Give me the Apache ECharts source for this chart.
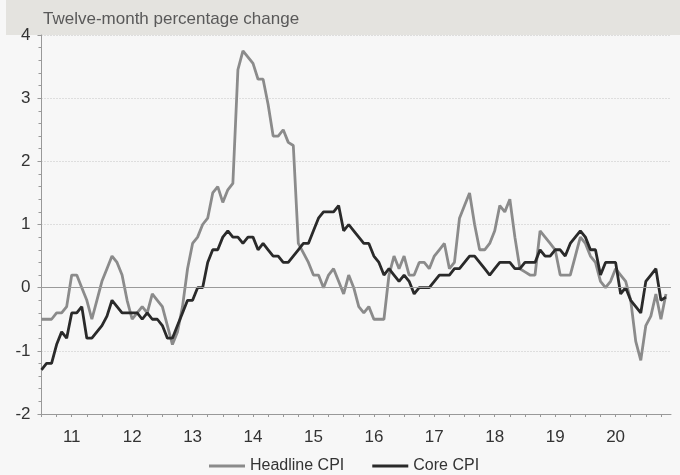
<!DOCTYPE html>
<html>
<head>
<meta charset="utf-8">
<script src="https://cdn.jsdelivr.net/npm/echarts@6/dist/echarts.min.js"></script>
<style>
  html, body { margin: 0; padding: 0; background: #f7f7f7; }
  #chart { width: 680px; height: 475px; }
</style>
</head>
<body>
<div id="chart"></div>
<script>
// monthly, Jan 2011 .. May 2021
const startYear = 2011
const yearLabels = ['11', '12', '13', '14', '15', '16', '17', '18', '19', '20']

const headlineCPI = [
  -0.5, -0.5, -0.5, -0.4, -0.4, -0.3, 0.2, 0.2, 0.0, -0.2, -0.5, -0.2,
  0.1, 0.3, 0.5, 0.4, 0.2, -0.2, -0.5, -0.4, -0.3, -0.4, -0.1, -0.2,
  -0.3, -0.6, -0.9, -0.7, -0.3, 0.3, 0.7, 0.8, 1.0, 1.1, 1.5, 1.6,
  1.35, 1.55, 1.65, 3.45, 3.75, 3.65, 3.55, 3.3, 3.3, 2.9, 2.4, 2.4,
  2.5, 2.3, 2.25, 0.7, 0.55, 0.4, 0.2, 0.2, 0.0, 0.2, 0.3, 0.1,
  -0.1, 0.2, 0.0, -0.3, -0.4, -0.3, -0.5, -0.5, -0.5, 0.2, 0.5, 0.3,
  0.5, 0.2, 0.2, 0.4, 0.4, 0.3, 0.5, 0.6, 0.7, 0.3, 0.4, 1.1,
  1.3, 1.5, 1.0, 0.6, 0.6, 0.7, 0.9, 1.3, 1.2, 1.4, 0.8, 0.3,
  0.25, 0.2, 0.2, 0.9, 0.8, 0.7, 0.6, 0.2, 0.2, 0.2, 0.5, 0.8,
  0.7, 0.5, 0.4, 0.1, 0.0, 0.1, 0.3, 0.2, 0.1, -0.2, -0.85, -1.15,
  -0.6, -0.45, -0.1, -0.5, -0.1
]

const coreCPI = [
  -1.3, -1.2, -1.2, -0.9, -0.7, -0.8, -0.4, -0.4, -0.3, -0.8, -0.8, -0.7,
  -0.6, -0.45, -0.2, -0.3, -0.4, -0.4, -0.4, -0.4, -0.5, -0.4, -0.5, -0.5,
  -0.6, -0.8, -0.8, -0.6, -0.4, -0.2, -0.2, 0.0, 0.0, 0.4, 0.6, 0.6,
  0.8, 0.9, 0.8, 0.8, 0.7, 0.8, 0.8, 0.6, 0.7, 0.6, 0.5, 0.5,
  0.4, 0.4, 0.5, 0.6, 0.7, 0.7, 0.9, 1.1, 1.2, 1.2, 1.2, 1.3,
  0.9, 1.0, 0.9, 0.8, 0.7, 0.7, 0.5, 0.4, 0.2, 0.3, 0.2, 0.1,
  0.2, 0.1, -0.1, 0.0, 0.0, 0.0, 0.1, 0.2, 0.2, 0.2, 0.3, 0.3,
  0.4, 0.5, 0.5, 0.4, 0.3, 0.2, 0.3, 0.4, 0.4, 0.4, 0.3, 0.3,
  0.4, 0.4, 0.4, 0.6, 0.5, 0.5, 0.6, 0.6, 0.5, 0.7, 0.8, 0.9,
  0.8, 0.6, 0.6, 0.2, 0.4, 0.4, 0.4, -0.1, 0.0, -0.2, -0.3, -0.4,
  0.1, 0.2, 0.3, -0.2, -0.15
]

// one extra month so the axis runs a little past the last point
const months = []
for (let i = 0; i < 126; i++) {
  months.push((startYear + Math.floor(i / 12)) + '-' + (i % 12 + 1))
}

const font = 'Liberation Sans, Arial, sans-serif'
const chart = echarts.init(document.getElementById('chart'), null, { renderer: 'canvas' })

chart.setOption({
  animation: false,
  backgroundColor: '#f7f7f7',
  textStyle: { fontFamily: font },
  graphic: [{
    type: 'rect',
    left: 6, top: 0, z: -10,
    shape: { width: 674, height: 35 },
    style: { fill: '#e4e3df' }
  }],
  title: {
    text: 'Twelve-month percentage change',
    left: 38, top: 6,
    textStyle: { fontSize: 17, fontWeight: 'normal', color: '#595959', fontFamily: font }
  },
  grid: { left: 41.5, right: 9, top: 35, bottom: 61 },
  legend: {
    left: 204, top: 453,
    itemWidth: 36, itemHeight: 3, itemGap: 28,
    icon: 'rect',
    textStyle: { fontSize: 16, color: '#333', fontFamily: font }
  },
  xAxis: {
    type: 'category',
    data: months,
    boundaryGap: false,
    axisLine: { onZero: false, lineStyle: { color: '#999' } },
    axisTick: {
      length: 3,
      interval: (i) => i % 3 === 0,
      lineStyle: { color: '#999' }
    },
    axisLabel: {
      interval: (i) => i % 12 === 6,
      formatter: (v, i) => yearLabels[Math.floor(i / 12)] || '',
      margin: 15,
      fontSize: 17,
      color: '#333',
      fontFamily: font
    },
    splitLine: { show: false }
  },
  yAxis: {
    type: 'value',
    min: -2, max: 4, interval: 1,
    axisLine: { show: true, lineStyle: { color: '#999' } },
    axisTick: { show: true, length: 4, lineStyle: { color: '#999' } },
    minorTick: { show: true, splitNumber: 5, length: 3, lineStyle: { color: '#999' } },
    axisLabel: { fontSize: 17, color: '#333', margin: 11, fontFamily: font },
    splitLine: { lineStyle: { color: '#c4c4c4', type: [1, 2], width: 1 } }
  },
  series: [
    {
      name: 'Headline CPI',
      type: 'line',
      data: headlineCPI,
      symbol: 'none',
      itemStyle: { color: '#8b8b8b' },
      lineStyle: { color: '#8b8b8b', width: 2.8 },
      markLine: {
        silent: true,
        symbol: 'none',
        label: { show: false },
        lineStyle: { color: '#9a9a9a', type: 'solid', width: 1 },
        data: [{ yAxis: 0 }]
      }
    },
    {
      name: 'Core CPI',
      type: 'line',
      data: coreCPI,
      symbol: 'none',
      itemStyle: { color: '#2a2a2a' },
      lineStyle: { color: '#2a2a2a', width: 2.8 }
    }
  ]
})
</script>
</body>
</html>
